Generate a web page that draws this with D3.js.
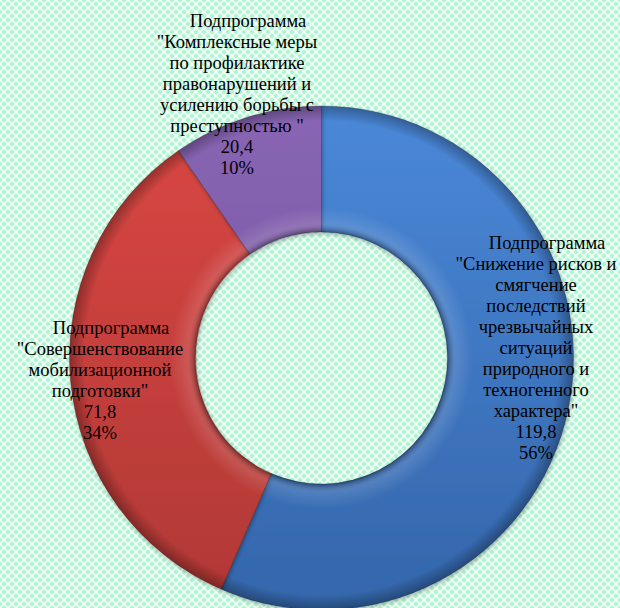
<!DOCTYPE html>
<html><head><meta charset="utf-8">
<script src="https://cdn.jsdelivr.net/npm/d3@7"></script>
<style>html,body{margin:0;padding:0;background:#fff;}svg{display:block;}
.lbl{font-family:"Liberation Serif","Times New Roman","DejaVu Serif",serif;font-size:18.5px;fill:#000;}</style>
</head><body>
<svg id="chart" width="620" height="608"></svg>
<script>
const categories = [
  ["Подпрограмма", "\"Снижение рисков и", "смягчение", "последствий", "чрезвычайных", "ситуаций", "природного и", "техногенного", "характера\""],
  ["Подпрограмма", "\"Совершенствование", "мобилизационной", "подготовки\""],
  ["Подпрограмма", "\"Комплексные меры", "по профилактике", "правонарушений и", "усилению борьбы с", "преступностью \""]
];
const values = [119.8, 71.8, 20.4];
const valueLabels = ["119,8", "71,8", "20,4"];
const percentLabels = ["56%", "34%", "10%"];
const colors = [["#4a88d8", "#3466ab"], ["#da4744", "#b03835"], ["#8966b4", "#6e4f97"]];

const svg = d3.select("#chart");
const W = 620, H = 608;
const defs = svg.append("defs");

// background lattice pattern
const pat = defs.append("pattern").attr("id", "bg").attr("patternUnits", "userSpaceOnUse")
  .attr("width", 8).attr("height", 8);
pat.append("rect").attr("width", 8).attr("height", 8).attr("fill", "#aef5d1");
pat.append("path").attr("d", "M0,0 L8,8 M-4,4 L4,12 M4,-4 L12,4").attr("stroke", "#ffffff").attr("stroke-opacity", 0.8).attr("stroke-width", 1.8);
pat.append("path").attr("d", "M8,0 L0,8 M4,-4 L-4,4 M12,4 L4,12").attr("stroke", "#ffffff").attr("stroke-opacity", 0.8).attr("stroke-width", 1.8);
svg.append("rect").attr("width", W).attr("height", H).attr("fill", "url(#bg)");

const cx = 321.5, cy = 358, R = 252, r = 126;

colors.forEach((c, i) => {
  const g = defs.append("linearGradient").attr("id", "g" + i)
    .attr("gradientUnits", "userSpaceOnUse").attr("x1", 0).attr("y1", -R).attr("x2", 0).attr("y2", R);
  g.append("stop").attr("offset", "0%").attr("stop-color", c[0]);
  g.append("stop").attr("offset", "100%").attr("stop-color", c[1]);
});
const sh = defs.append("radialGradient").attr("id", "shade")
  .attr("gradientUnits", "userSpaceOnUse").attr("cx", 0).attr("cy", 0).attr("r", R);
sh.append("stop").attr("offset", "50%").attr("stop-color", "#000").attr("stop-opacity", 0.35);
sh.append("stop").attr("offset", "53.5%").attr("stop-color", "#fff").attr("stop-opacity", 0.12);
sh.append("stop").attr("offset", "60%").attr("stop-color", "#fff").attr("stop-opacity", 0);
sh.append("stop").attr("offset", "94%").attr("stop-color", "#000").attr("stop-opacity", 0);
sh.append("stop").attr("offset", "100%").attr("stop-color", "#000").attr("stop-opacity", 0.3);

const flt = defs.append("filter").attr("id", "ds").attr("x", "-10%").attr("y", "-10%").attr("width", "120%").attr("height", "120%");
flt.append("feDropShadow").attr("dx", 1).attr("dy", 2).attr("stdDeviation", 2).attr("flood-color", "#000").attr("flood-opacity", 0.3);

const pie = d3.pie().sort(null).value(d => d)(values);
const arc = d3.arc().innerRadius(r).outerRadius(R);
const g = svg.append("g").attr("transform", `translate(${cx},${cy})`);
g.selectAll("path.slice").data(pie).join("path").attr("class", "slice")
  .attr("d", arc).attr("fill", (d, i) => `url(#g${i})`).attr("filter", "url(#ds)");
g.selectAll("path.shade").data(pie).join("path").attr("class", "shade")
  .attr("d", arc).attr("fill", "url(#shade)");
g.selectAll("path.edge").data(pie).join("path").attr("class", "edge")
  .attr("d", arc).attr("fill", "none").attr("stroke", "#000").attr("stroke-opacity", 0.25).attr("stroke-width", 0.8);

// labels
const labelAnchors = [[536, 249], [100, 334], [237, 27]];
const lh = 21;
labelAnchors.forEach((p, i) => {
  const lines = categories[i].concat([valueLabels[i], percentLabels[i]]);
  const t = svg.append("text").attr("class", "lbl").attr("text-anchor", "middle");
  lines.forEach((s, j) => {
    t.append("tspan").attr("x", p[0] + (j === 0 ? 11 : 0)).attr("y", p[1] + j * lh).text(s);
  });
});
</script>
</body></html>
